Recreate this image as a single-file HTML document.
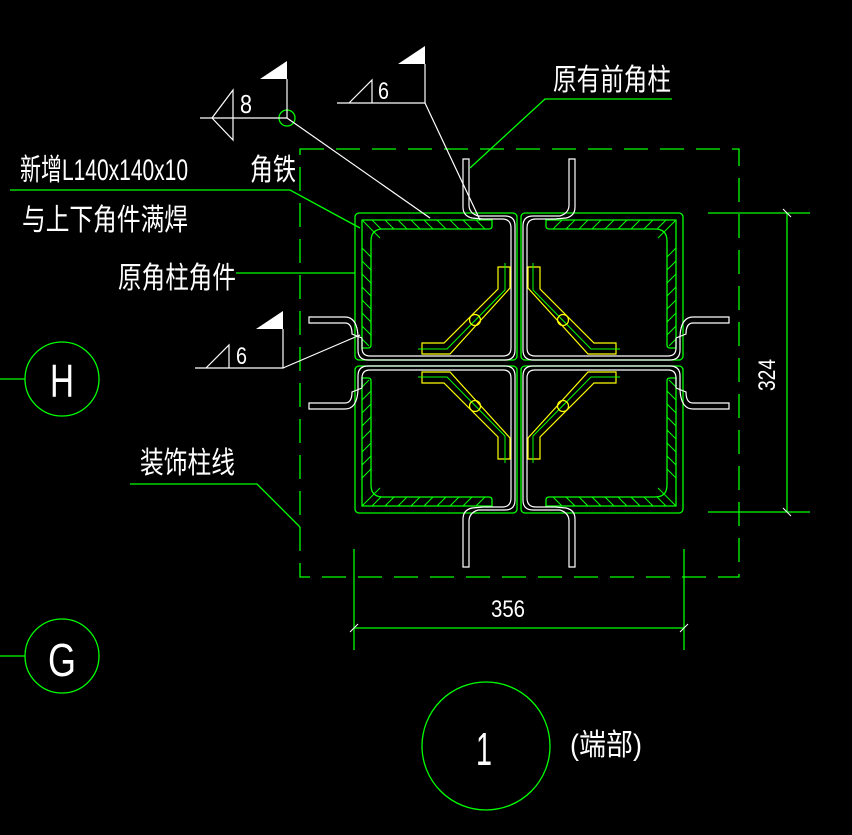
<!DOCTYPE html>
<html><head><meta charset="utf-8"><style>
html,body{margin:0;padding:0;background:#000;}
svg{display:block;}
text{font-family:"Liberation Sans","Noto Sans CJK SC",sans-serif;fill:#fff;}
</style></head><body>
<svg width="852" height="835" viewBox="0 0 852 835" xmlns="http://www.w3.org/2000/svg">
<rect width="852" height="835" fill="#000"/>
<defs>
<g id="q" fill="none">
  <rect x="355" y="213" width="162" height="147" rx="4" stroke="#0f0" stroke-width="1.3"/>
  <path d="M362,220 H492 V226 Q492,229 489,229 H383 Q371,229 371,241 V345 Q371,348 368,348 H362 Z" stroke="#0f0" stroke-width="1.3"/>
  <path d="M362,220 L380,238 M372,220 l9,9 M385,220 l9,9 M398,220 l9,9 M411,220 l9,9 M424,220 l9,9 M437,220 l9,9 M450,220 l9,9 M463,220 l9,9 M476,220 l9,9 M362,248 l9,9 M362,261 l9,9 M362,274 l9,9 M362,287 l9,9 M362,300 l9,9 M362,313 l9,9 M362,326 l9,9 M362,339 l7,7" stroke="#0f0" stroke-width="1"/>
  <path d="M478,216 H505 Q515,216 515,226 V350 Q515,360 505,360 H368 Q358,360 358,350 V336" stroke="#fff" stroke-width="1.2"/>
  <path d="M483,219 H502 Q511,219 511,228 V348 Q511,356 503,356 H370 Q362,356 362,348 V338" stroke="#fff" stroke-width="1.2"/>
  <path d="M478,216 Q469,213 469,205 V159 H463 V207 Q463,216 472,218 L483,219" stroke="#fff" stroke-width="1.2"/>
  <path d="M358,336 Q357,317 345,317 H309 V323 H345 Q352,323 352,334 L362,338" stroke="#fff" stroke-width="1.2"/>
  <path d="M498,267 H510 V288 L450,354 H422 V343 H444 L498,289 Z" stroke="#ff0" stroke-width="1.2"/>
  <path d="M505,263 V290 L447,349 H418" stroke="#0f0" stroke-width="1"/>
  <circle cx="475" cy="320" r="5.5" stroke="#ff0" stroke-width="1.2"/>
</g>
</defs>
<use href="#q"/>
<use href="#q" transform="translate(1038,0) scale(-1,1)"/>
<use href="#q" transform="translate(0,726) scale(1,-1)"/>
<use href="#q" transform="translate(1038,726) scale(-1,-1)"/>

<!-- dashed box -->
<rect x="300" y="149" width="439" height="428" fill="none" stroke="#0f0" stroke-width="1.3" stroke-dasharray="24,12"/>

<!-- dimensions -->
<g stroke="#0f0" stroke-width="1.3" fill="none">
<path d="M787,213 V512 M708,213 H810 M708,512 H810"/>
<path d="M354,628 H684 M354,549 V650 M684,549 V650"/>
</g>
<g stroke="#fff" stroke-width="1"><path d="M783,209 l8,8 M783,508 l8,8 M350,632 l8,-8 M680,632 l8,-8"/></g>
<text x="0" y="0" font-size="24" transform="translate(775,375) rotate(-90)" text-anchor="middle" textLength="32" lengthAdjust="spacingAndGlyphs">324</text>
<text x="508" y="617" font-size="24" text-anchor="middle" textLength="34" lengthAdjust="spacingAndGlyphs">356</text>

<!-- axis circles -->
<g stroke="#0f0" stroke-width="1.3" fill="none">
<circle cx="62" cy="379" r="37"/><path d="M0,379 H25"/>
<circle cx="62" cy="656" r="37"/><path d="M0,656 H25"/>
<circle cx="486" cy="746" r="64"/>
</g>
<text x="62" y="397" font-size="46" text-anchor="middle" textLength="24" lengthAdjust="spacingAndGlyphs">H</text>
<text x="62" y="676" font-size="46" text-anchor="middle" textLength="28" lengthAdjust="spacingAndGlyphs">G</text>
<text x="484" y="765" font-size="46" text-anchor="middle" textLength="16" lengthAdjust="spacingAndGlyphs">1</text>
<text x="570" y="755" font-size="30" textLength="72" lengthAdjust="spacingAndGlyphs">(端部)</text>

<!-- labels -->
<text x="20" y="180" font-size="30" textLength="168" lengthAdjust="spacingAndGlyphs">新增L140x140x10</text>
<text x="250" y="180" font-size="30" textLength="46" lengthAdjust="spacingAndGlyphs">角铁</text>
<text x="22" y="230" font-size="30" textLength="166" lengthAdjust="spacingAndGlyphs">与上下角件满焊</text>
<text x="118" y="288" font-size="30" textLength="118" lengthAdjust="spacingAndGlyphs">原角柱角件</text>
<text x="140" y="473" font-size="30" textLength="95" lengthAdjust="spacingAndGlyphs">装饰柱线</text>
<text x="553" y="90" font-size="30" textLength="118" lengthAdjust="spacingAndGlyphs">原有前角柱</text>

<g stroke="#0f0" stroke-width="1.3" fill="none">
<path d="M10,190 H290 L360,228"/>
<path d="M236,273 H355"/>
<path d="M130,484 H257 L300,527"/>
<path d="M470,168 L545,99 H672"/>
<circle cx="287" cy="118" r="8"/>
</g>

<!-- weld symbols -->
<g stroke="#fff" stroke-width="1.2" fill="none">
<path d="M200,118 H287 V79 M233,90 L212,118 L233,140 Z"/>
<path d="M287,118 L430,218"/>
<path d="M337,103 H425 V64 M349,103 L372,80 V103"/>
<path d="M425,103 L480,220"/>
<path d="M195,368 H283 V329 M206,368 L229,345 V368"/>
<path d="M283,368 L360,335"/>
</g>
<g fill="#fff">
<polygon points="260,79 287,79 287,61"/>
<polygon points="398,64 425,64 425,46"/>
<polygon points="256,329 283,329 283,311"/>
</g>
<text x="240" y="113" font-size="26" textLength="12" lengthAdjust="spacingAndGlyphs">8</text>
<text x="378" y="99" font-size="24" textLength="11" lengthAdjust="spacingAndGlyphs">6</text>
<text x="236" y="364" font-size="24" textLength="11" lengthAdjust="spacingAndGlyphs">6</text>
</svg>
</body></html>
